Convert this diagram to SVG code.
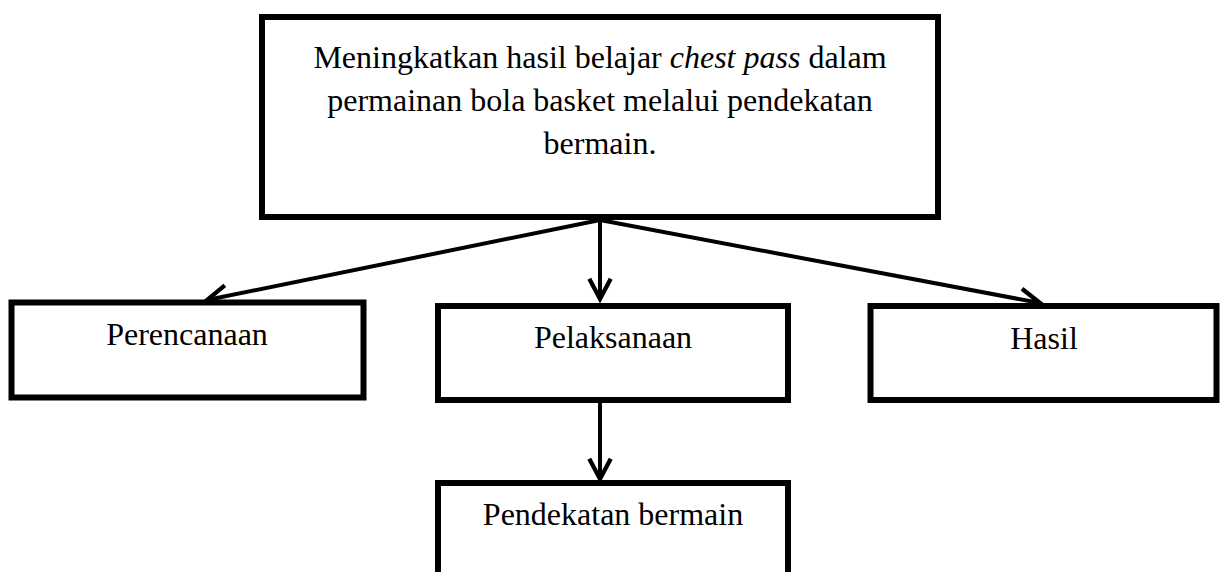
<svg xmlns="http://www.w3.org/2000/svg" width="1220" height="572" viewBox="0 0 1220 572">
  <style>
    .box { fill: #ffffff; stroke: #000000; stroke-width: 6; }
    .lbl { font-family: "Liberation Serif", "Times New Roman", serif; font-size: 32px; fill: #000000; text-anchor: middle; }
    .conn { stroke: #000000; stroke-width: 4; fill: none; marker-end: url(#arrow); }
  </style>
  <defs>
    <marker id="arrow" markerUnits="userSpaceOnUse" markerWidth="30" markerHeight="30" refX="0" refY="0" viewBox="-24 -14 28 28" orient="auto" overflow="visible">
      <path d="M -19 -10 L 0 0 L -19 10" fill="none" stroke="#000000" stroke-width="4" stroke-linejoin="miter"/>
    </marker>
  </defs>
  <rect width="1220" height="572" fill="#ffffff"/>

  <g id="connectors">
    <line class="conn" x1="600" y1="220" x2="207" y2="300"/>
    <line class="conn" x1="600" y1="220" x2="600" y2="299"/>
    <line class="conn" x1="600" y1="220" x2="1040" y2="303"/>
    <line class="conn" x1="600" y1="400" x2="600" y2="479"/>
  </g>

  <g id="node-tujuan">
    <rect class="box" x="262" y="17" width="676" height="200"/>
    <text class="lbl" x="600" y="68">Meningkatkan hasil belajar <tspan font-style="italic">chest pass</tspan> dalam</text>
    <text class="lbl" x="600" y="111">permainan bola basket melalui pendekatan</text>
    <text class="lbl" x="600" y="154">bermain.</text>
  </g>

  <g id="node-perencanaan">
    <rect class="box" x="11.5" y="302.5" width="352" height="95"/>
    <text class="lbl" x="187" y="345">Perencanaan</text>
  </g>

  <g id="node-pelaksanaan">
    <rect class="box" x="438" y="306" width="350" height="94"/>
    <text class="lbl" x="613" y="348">Pelaksanaan</text>
  </g>

  <g id="node-hasil">
    <rect class="box" x="870.5" y="306" width="346" height="94"/>
    <text class="lbl" x="1044" y="349">Hasil</text>
  </g>

  <g id="node-pendekatan">
    <rect class="box" x="438" y="483" width="350" height="120"/>
    <text class="lbl" x="613" y="525">Pendekatan bermain</text>
  </g>
</svg>
